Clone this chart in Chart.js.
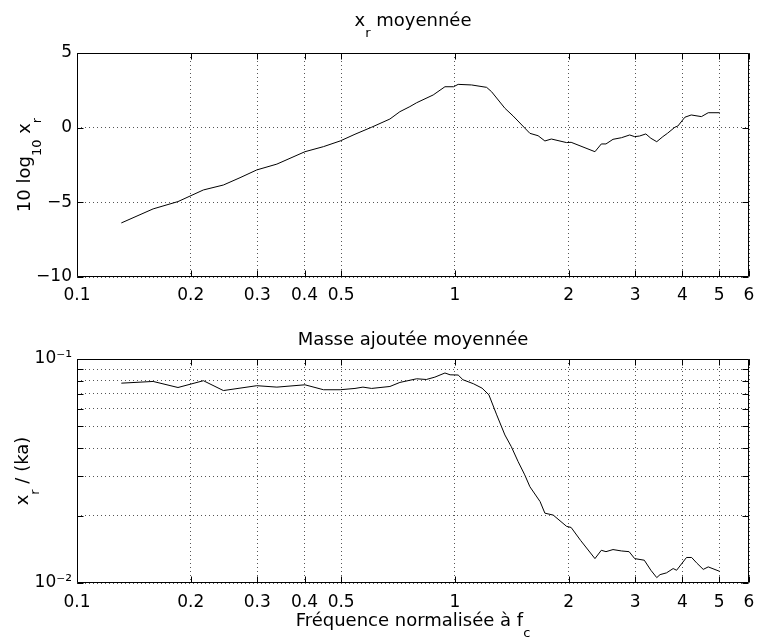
<!DOCTYPE html>
<html>
<head>
<meta charset="utf-8">
<script src="https://cdn.jsdelivr.net/npm/chart.js@4.4.0/dist/chart.umd.min.js"></script>
<style>
  body { margin: 0; background: #fff; }
  canvas { display: block; }
</style>
</head>
<body>
<canvas id="topChart" width="757" height="321"></canvas>
<canvas id="bottomChart" width="757" height="321"></canvas>
<script>
// tick positions of the frequency axis (shared by both plots)
const xTicks = [0.1, 0.2, 0.3, 0.4, 0.5, 1, 2, 3, 4, 5, 6];
const topYTicks = [-10, -5, 0, 5];
const bottomYTicks = [0.01, 0.02, 0.03, 0.04, 0.05, 0.06, 0.07, 0.08, 0.09, 0.1];

// x_r moyennée, 10 log10 x_r
const freqTop = [0.131, 0.159, 0.185, 0.216, 0.244, 0.270, 0.299, 0.338, 0.401, 0.449,
  0.497, 0.544, 0.602, 0.673, 0.715, 0.760, 0.792, 0.876, 0.941, 0.992,
  1.02, 1.107, 1.213, 1.25, 1.356, 1.426, 1.579, 1.66, 1.73, 1.80,
  1.975, 2.03, 2.347, 2.44, 2.51, 2.62, 2.76, 2.90, 2.99, 3.08,
  3.20, 3.30, 3.42, 3.55, 3.65, 3.82, 3.89, 4.06, 4.22, 4.49,
  4.68, 5.02];
const levelTop = [-6.38, -5.44, -4.95, -4.17, -3.84, -3.35, -2.83, -2.44, -1.61, -1.27,
  -0.89, -0.44, 0.03, 0.58, 1.07, 1.41, 1.67, 2.19, 2.74, 2.74,
  2.9, 2.86, 2.7, 2.41, 1.3, 0.78, -0.38, -0.54, -0.89, -0.76,
  -1.0, -0.98, -1.61, -1.09, -1.09, -0.78, -0.67, -0.49, -0.6, -0.56,
  -0.42, -0.71, -0.94, -0.6, -0.38, 0.03, 0.11, 0.70, 0.85, 0.74,
  1.0, 1.0];

// masse ajoutée moyennée, x_r / (ka)
const freqBottom = [0.131, 0.159, 0.185, 0.216, 0.244, 0.299, 0.338, 0.401, 0.449, 0.497,
  0.544, 0.571, 0.602, 0.673, 0.715, 0.792, 0.84, 0.885, 0.941, 0.971,
  1.02, 1.05, 1.12, 1.18, 1.23, 1.29, 1.356, 1.41, 1.47, 1.53,
  1.579, 1.68, 1.73, 1.82, 1.975, 2.03, 2.15, 2.347, 2.44, 2.51,
  2.62, 2.76, 2.89, 2.99, 3.17, 3.30, 3.42, 3.49, 3.63, 3.78,
  3.86, 4.10, 4.23, 4.36, 4.54, 4.68, 5.02];
const massBottom = [0.078, 0.0794, 0.0746, 0.080, 0.0723, 0.076, 0.0749, 0.0767, 0.0729, 0.0729,
  0.0739, 0.0749, 0.0739, 0.0754, 0.0786, 0.0816, 0.081, 0.083, 0.0866, 0.085,
  0.0848, 0.0808, 0.0775, 0.0741, 0.0692, 0.0563, 0.0458, 0.0406, 0.0348, 0.0304,
  0.0269, 0.0231, 0.0205, 0.0201, 0.0179, 0.0177, 0.0155, 0.01285, 0.014, 0.0138,
  0.0141, 0.0139, 0.0138, 0.01285, 0.01264, 0.0114, 0.01057, 0.0109, 0.0111, 0.0116,
  0.0114, 0.0130, 0.0130, 0.0123, 0.0115, 0.0118, 0.01127];

const FONT = 'DejaVu Sans';
const tickFont = { family: FONT, size: 17 };
const gridStyle = { color: '#555', lineWidth: 1, drawTicks: false };

// draws text with subscripts, optionally rotated
function drawRich(ctx, segs, x, y, rot) {
  const mainFont = '18px "' + FONT + '"';
  const subFont = '13px "' + FONT + '"';
  let total = 0;
  segs.forEach(s => {
    ctx.font = s.sub ? subFont : mainFont;
    s.w = ctx.measureText(s.t).width;
    total += s.w;
  });
  ctx.save();
  ctx.translate(x, y);
  if (rot) ctx.rotate(rot);
  ctx.fillStyle = '#000';
  ctx.textBaseline = 'alphabetic';
  ctx.textAlign = 'left';
  let cx = -total / 2;
  segs.forEach(s => {
    ctx.font = s.sub ? subFont : mainFont;
    ctx.fillText(s.t, cx, s.sub ? 11 : 0);
    cx += s.w;
  });
  ctx.restore();
}

const framePlugin = {
  id: 'frame',
  afterDraw(chart, args, opts) {
    const { ctx, chartArea: a, scales } = chart;
    const l = Math.round(a.left) + 0.5, r = Math.round(a.right) - 0.5;
    const t = Math.round(a.top) + 0.5, b = Math.round(a.bottom) - 0.5;
    const len = 6;
    ctx.save();
    ctx.strokeStyle = '#000';
    ctx.lineWidth = 1;
    ctx.beginPath();
    ctx.rect(l, t, r - l, b - t);
    scales.x.ticks.forEach(tk => {
      const px = Math.round(scales.x.getPixelForValue(tk.value)) + 0.5;
      ctx.moveTo(px, b); ctx.lineTo(px, b - len);
      ctx.moveTo(px, t); ctx.lineTo(px, t + len);
    });
    scales.y.ticks.forEach(tk => {
      const py = Math.round(scales.y.getPixelForValue(tk.value)) + 0.5;
      ctx.moveTo(l, py); ctx.lineTo(l + len, py);
      ctx.moveTo(r, py); ctx.lineTo(r - len, py);
    });
    ctx.stroke();
    ctx.restore();

    const midX = (a.left + a.right) / 2;
    const midY = (a.top + a.bottom) / 2;
    (opts.texts || []).forEach(tx => {
      const x = tx.x === undefined ? midX : tx.x;
      const y = tx.y === undefined ? midY : tx.y;
      drawRich(ctx, tx.segs, x, y, tx.rot || 0);
    });
  }
};

function xScale(height, pad) {
  return {
    type: 'logarithmic',
    min: 0.1,
    max: 6,
    afterBuildTicks: s => { s.ticks = xTicks.map(v => ({ value: v })); },
    afterFit: s => { s.height = height; s.paddingLeft = 0; s.paddingRight = 0; },
    ticks: { callback: v => String(v), autoSkip: false, maxRotation: 0, padding: pad, font: tickFont, color: '#000' },
    grid: gridStyle,
    border: { display: false, dash: [1, 3] }
  };
}

function fixY(s) {
  s.width = 77;
  s.paddingTop = 0;
  s.paddingBottom = 0;
}

function makeChart(id, data, yOpts, pad, xHeight, xPad, texts) {
  return new Chart(document.getElementById(id), {
    type: 'line',
    data: {
      datasets: [{
        data: data,
        borderColor: '#000',
        borderWidth: 1,
        pointRadius: 0,
        tension: 0,
        fill: false
      }]
    },
    options: {
      responsive: false,
      animation: false,
      events: [],
      layout: { padding: pad },
      plugins: {
        legend: { display: false },
        tooltip: { enabled: false },
        frame: { texts: texts }
      },
      scales: { x: xScale(xHeight, xPad), y: yOpts }
    },
    plugins: [framePlugin]
  });
}

makeChart('topChart',
  freqTop.map((f, i) => ({ x: f, y: levelTop[i] })),
  {
    type: 'linear',
    min: -10,
    max: 5,
    afterBuildTicks: s => { s.ticks = topYTicks.map(v => ({ value: v })); },
    afterFit: fixY,
    ticks: { callback: v => v < 0 ? '\u2212' + Math.abs(v) : String(v), padding: 5, font: tickFont, color: '#000' },
    grid: gridStyle,
    border: { display: false, dash: [1, 3] }
  },
  { top: 53, right: 8, left: 0, bottom: 0 },
  44, 8,
  [
    { segs: [{ t: 'x' }, { t: 'r', sub: true }, { t: ' moyennée' }], y: 26 },
    { segs: [{ t: '10 log' }, { t: '10', sub: true }, { t: ' x' }, { t: 'r', sub: true }], x: 30, rot: -Math.PI / 2 }
  ]
);

makeChart('bottomChart',
  freqBottom.map((f, i) => ({ x: f, y: massBottom[i] })),
  {
    type: 'logarithmic',
    min: 0.01,
    max: 0.1,
    afterBuildTicks: s => { s.ticks = bottomYTicks.map(v => ({ value: v })); },
    afterFit: fixY,
    ticks: {
      callback: v => v === 0.1 ? '10\u207B\u00B9' : (v === 0.01 ? '10\u207B\u00B2' : ''),
      autoSkip: false, padding: 5, font: tickFont, color: '#000'
    },
    grid: gridStyle,
    border: { display: false, dash: [1, 3] }
  },
  { top: 38, right: 8, left: 0, bottom: 0 },
  59, 9,
  [
    { segs: [{ t: 'Masse ajoutée moyennée' }], y: 24 },
    { segs: [{ t: 'x' }, { t: 'r', sub: true }, { t: ' / (ka)' }], x: 28, rot: -Math.PI / 2 },
    { segs: [{ t: 'Fréquence normalisée à f' }, { t: 'c', sub: true }], y: 305 }
  ]
);
</script>
</body>
</html>
